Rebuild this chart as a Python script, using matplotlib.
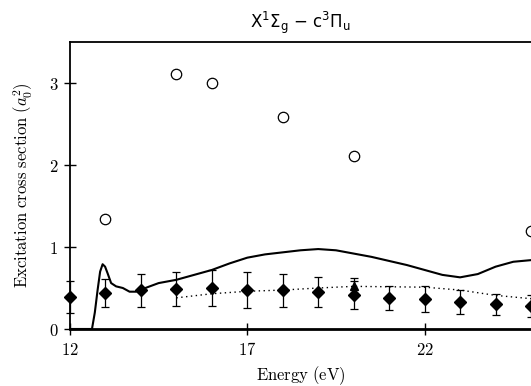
import matplotlib
matplotlib.use('Agg')
import matplotlib.pyplot as plt
import numpy as np

plt.rcParams['mathtext.fontset'] = 'cm'

# measured cross sections (filled diamonds) with error bars
energy_meas = [12, 13, 14, 15, 16, 17, 18, 19, 20, 21, 22, 23, 24, 25]
sigma_meas = [0.39, 0.435, 0.47, 0.49, 0.50, 0.48, 0.47, 0.45, 0.41, 0.38, 0.365, 0.33, 0.30, 0.28]
sigma_err = [0.20, 0.17, 0.20, 0.21, 0.22, 0.22, 0.20, 0.18, 0.17, 0.15, 0.16, 0.15, 0.13, 0.13]

# second measurement (triangle)
energy_tri = [20]
sigma_tri = [0.53]
err_tri = [0.09]

# other calculation (open circles)
energy_circ = [13, 15, 16, 18, 20, 25]
sigma_circ = [1.34, 3.11, 3.00, 2.58, 2.11, 1.19]

# theory curve (solid)
energy_solid = [12.0, 12.3, 12.62, 12.70, 12.78, 12.85, 12.92, 12.99, 13.06, 13.16, 13.30,
                13.49, 13.68, 13.86, 14.0, 14.5, 15.0, 15.5, 16.0, 16.5, 17.0, 17.5,
                18.0, 18.5, 19.0, 19.5, 20.0, 20.5, 21.0, 21.5, 22.0, 22.5, 23.0, 23.5,
                24.0, 24.5, 25.0]
sigma_solid = [0.0, 0.0, 0.0, 0.20, 0.48, 0.70, 0.79, 0.76, 0.68, 0.56, 0.52,
               0.50, 0.455, 0.455, 0.48, 0.56, 0.60, 0.66, 0.72, 0.80, 0.87, 0.91,
               0.935, 0.96, 0.975, 0.96, 0.92, 0.88, 0.83, 0.78, 0.72, 0.66, 0.63, 0.67,
               0.76, 0.82, 0.84]

# second theory curve (dotted)
energy_dot = [15, 16, 17, 18, 19, 20, 21, 22, 23, 24, 25]
sigma_dot = [0.38, 0.43, 0.46, 0.475, 0.50, 0.52, 0.515, 0.51, 0.475, 0.41, 0.37]

xticks = [12, 17, 22]
yticks = [0, 1, 2, 3]

fig = plt.figure(figsize=(5.31, 3.86), dpi=100)
ax = fig.add_axes([0.1318, 0.1477, 0.8682, 0.7433])

ax.plot(energy_solid, sigma_solid, color='black', lw=1.5)
ax.plot(energy_dot, sigma_dot, color='black', lw=1.0, linestyle=(0, (1, 2.5)))
ax.errorbar(energy_meas, sigma_meas, yerr=sigma_err, fmt='D', color='black',
            ms=6.5, ecolor='black', elinewidth=0.9, capsize=3, capthick=0.9, clip_on=False)
ax.errorbar(energy_tri, sigma_tri, yerr=err_tri, fmt='^', color='black',
            ms=6, ecolor='black', elinewidth=0.9, capsize=3, capthick=0.9)
ax.plot(energy_circ, sigma_circ, 'o', mfc='white', mec='black', ms=7.5, mew=0.9,
        clip_on=False, zorder=5)

ax.set_xlim(12, 25)
ax.set_ylim(0, 3.5)
ax.set_xticks(xticks)
ax.set_xticklabels([f'${t}$' for t in xticks])
ax.set_yticks(yticks)
ax.set_yticklabels([f'${t}$' for t in yticks])
ax.tick_params(direction='inout', length=9, width=1.0, labelsize=12, pad=4)

for side in ['left', 'bottom', 'top']:
    ax.spines[side].set_linewidth(1.3)
ax.spines['bottom'].set_linewidth(2.0)
ax.spines['right'].set_visible(False)

ax.set_xlabel(r'$\mathrm{Energy\ (eV)}$', fontsize=12, labelpad=4)
ax.set_ylabel(r'$\mathrm{Excitation\ cross\ section\ }(a_0^2)$', fontsize=12, labelpad=10)
ax.set_title(r'X$^1\Sigma_\mathregular{g}$ $-$ c$^3\Pi_\mathregular{u}$', fontsize=12,
             family='DejaVu Sans', math_fontfamily='dejavusans', pad=10)

fig.savefig('out.png', dpi=100)
